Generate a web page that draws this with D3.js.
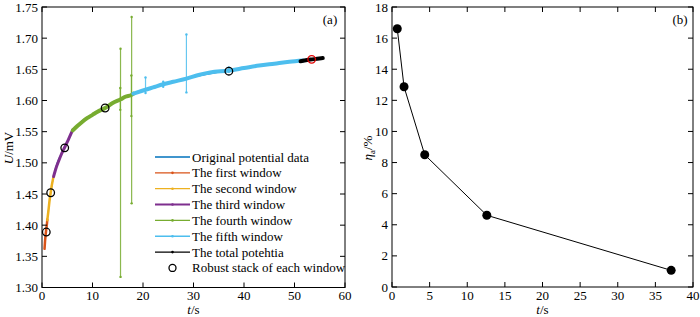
<!DOCTYPE html>
<html><head><meta charset="utf-8">
<script src="https://cdn.jsdelivr.net/npm/d3@7"></script>
<style>
body{margin:0;background:#fff;}
</style></head>
<body><svg id="c" width="700" height="317" font-family="'Liberation Serif', 'Times New Roman', serif"></svg>
<script>
// ---------- Panel (a) data ----------
const originalData = [[0.5,1.362],[1.05,1.409],[2.3,1.478],[4.5,1.525],[6.1,1.552],[12.5,1.588],[18.1,1.611],[28.6,1.635],[37,1.648],[51.7,1.664],[55.6,1.668]];
const firstWindow  = [[0.5,1.362],[0.6,1.374],[0.7,1.383],[0.85,1.394],[1.0,1.404],[1.05,1.409]];
const secondWindow = [[1.05,1.408],[1.3,1.425],[1.5,1.440],[1.72,1.452],[1.9,1.462],[2.1,1.471],[2.3,1.478]];
const thirdWindow  = [[2.3,1.478],[2.8,1.492],[3.3,1.503],[3.8,1.513],[4.5,1.525],[5.2,1.537],[5.7,1.546],[6.1,1.553]];
const fourthWindow = [[6.1,1.552],[7,1.559],[8,1.566],[9,1.572],[10,1.577],[11,1.582],[12.5,1.588],[14,1.596],[15.6,1.602],[16.5,1.606],[17.75,1.609],[18.1,1.611]];
const fourthSpikes = [[15.55,1.317,1.683],[17.75,1.435,1.734],[15.5,1.585,1.620],[17.7,1.575,1.640]];
const fifthWindow  = [[18.1,1.611],[20,1.616],[22,1.621],[24,1.626],[26,1.630],[28.6,1.635],[31,1.641],[33.3,1.645],[37,1.648],[40,1.652],[43,1.656],[46,1.659],[49,1.662],[51.7,1.664]];
const fifthSpikes  = [[20.5,1.612,1.637],[28.6,1.613,1.706],[37,1.646,1.653],[24,1.622,1.630]];
const totalWindow  = [[51.2,1.663],[52.5,1.665],[53.5,1.666],[54.5,1.667],[55.6,1.668]];
const robustT = [0.85,1.72,4.5,12.5,37.0,53.4];
const robustU = [1.389,1.452,1.524,1.588,1.647,1.666];
const robustColor = ["#000","#000","#000","#000","#000","#e00000"];
const xTicksA = [0,10,20,30,40,50,60];
const yTicksA = [1.30,1.35,1.40,1.45,1.50,1.55,1.60,1.65,1.70,1.75];
const legendLabels = ["Original potential data","The first window","The second window","The third window","The fourth window","The fifth window","The total potehtia","Robust stack of each window"];
const seriesColors = ["#0072BD","#D95319","#EDB120","#7E2F8E","#77AC30","#4DBEEE","#000000"];

// ---------- Panel (b) data ----------
const etaT = [0.7,1.6,4.35,12.6,37.1];
const etaV = [16.6,12.87,8.5,4.61,1.07];
const xTicksB = [0,5,10,15,20,25,30,35,40];
const yTicksB = [0,2,4,6,8,10,12,14,16,18];

const svg = d3.select("#c");
const FS = 13;

function frame(g, x, y, xt, yt, yfmt){
  const [x0,x1]=x.range(), [y0,y1]=y.range();
  g.append("rect").attr("x",x0).attr("y",y1).attr("width",x1-x0).attr("height",y0-y1)
    .attr("fill","none").attr("stroke","#000").attr("stroke-width",1);
  const tl=5;
  xt.forEach(v=>{
    const px=x(v);
    g.append("line").attr("x1",px).attr("x2",px).attr("y1",y0).attr("y2",y0-tl).attr("stroke","#000");
    g.append("line").attr("x1",px).attr("x2",px).attr("y1",y1).attr("y2",y1+tl).attr("stroke","#000");
    g.append("text").attr("x",px).attr("y",y0+12.5).attr("text-anchor","middle").attr("font-size",FS).text(v);
  });
  yt.forEach(v=>{
    const py=y(v);
    g.append("line").attr("x1",x0).attr("x2",x0+tl).attr("y1",py).attr("y2",py).attr("stroke","#000");
    g.append("line").attr("x1",x1).attr("x2",x1-tl).attr("y1",py).attr("y2",py).attr("stroke","#000");
    g.append("text").attr("x",x0-4).attr("y",py+4.5).attr("text-anchor","end").attr("font-size",FS).text(yfmt(v));
  });
}

// ---------- Panel (a) ----------
const xa = d3.scaleLinear().domain([0,60]).range([42,345]);
const ya = d3.scaleLinear().domain([1.30,1.75]).range([287.5,7]);
const ga = svg.append("g");
const lineA = d3.line().x(d=>xa(d[0])).y(d=>ya(d[1])).curve(d3.curveMonotoneX);

ga.append("path").datum(originalData).attr("d",lineA).attr("fill","none").attr("stroke",seriesColors[0]).attr("stroke-width",1);
function drawSeries(data, spikes, color, w){
  if(spikes){
    spikes.forEach(s=>{
      ga.append("line").attr("x1",xa(s[0])).attr("x2",xa(s[0])).attr("y1",ya(s[1])).attr("y2",ya(s[2]))
        .attr("stroke",color).attr("stroke-width",1.2).attr("opacity",0.85);
      [s[1],s[2]].forEach(v=>ga.append("circle").attr("cx",xa(s[0])).attr("cy",ya(v)).attr("r",1.2).attr("fill",color));
    });
  }
  ga.append("path").datum(data).attr("d",lineA).attr("fill","none").attr("stroke",color).attr("stroke-width",w).attr("stroke-linecap","round");
}
drawSeries(firstWindow,null,seriesColors[1],2.5);
drawSeries(secondWindow,null,seriesColors[2],2.5);
drawSeries(thirdWindow,null,seriesColors[3],3);
drawSeries(fourthWindow,fourthSpikes,seriesColors[4],4);
drawSeries(fifthWindow,fifthSpikes,seriesColors[5],4);
drawSeries(totalWindow,null,seriesColors[6],4);

robustT.forEach((t,i)=>{
  ga.append("circle").attr("cx",xa(t)).attr("cy",ya(robustU[i])).attr("r",3.8)
    .attr("fill","none").attr("stroke",robustColor[i]).attr("stroke-width",1.3);
});
frame(ga, xa, ya, xTicksA, yTicksA, d3.format(".2f"));
ga.append("text").attr("x",330).attr("y",24).attr("text-anchor","middle").attr("font-size",FS).text("(a)");

// legend
const lx0=155, lx1=190, ly0=157, ldy=15.85;
legendLabels.forEach((lab,i)=>{
  const yy=ly0+i*ldy;
  if(i<7){
    ga.append("line").attr("x1",lx0).attr("x2",lx1).attr("y1",yy).attr("y2",yy).attr("stroke",seriesColors[i]).attr("stroke-width",i===3?2:1.3);
    if(i>0) ga.append("circle").attr("cx",(lx0+lx1)/2).attr("cy",yy).attr("r",1.3).attr("fill",seriesColors[i]);
  } else {
    ga.append("circle").attr("cx",(lx0+lx1)/2).attr("cy",yy).attr("r",3.5).attr("fill","none").attr("stroke","#000").attr("stroke-width",1.3);
  }
  ga.append("text").attr("x",192).attr("y",yy+4.5).attr("font-size",FS).text(lab);
});

// axis labels (a)
const yla = ga.append("text").attr("transform","translate(13,148) rotate(-90)").attr("text-anchor","middle").attr("font-size",FS);
yla.append("tspan").attr("font-style","italic").text("U");
yla.append("tspan").text("/mV");
const xla = ga.append("text").attr("x",193.5).attr("y",314).attr("text-anchor","middle").attr("font-size",FS);
xla.append("tspan").attr("font-style","italic").text("t");
xla.append("tspan").text("/s");

// ---------- Panel (b) ----------
const xb = d3.scaleLinear().domain([0,40]).range([392,693]);
const yb = d3.scaleLinear().domain([0,18]).range([287,7]);
const gb = svg.append("g");
const etaData = etaT.map((t,i)=>[t,etaV[i]]);
gb.append("path").datum(etaData).attr("d",d3.line().x(d=>xb(d[0])).y(d=>yb(d[1])))
  .attr("fill","none").attr("stroke","#000").attr("stroke-width",1);
gb.selectAll("circle.m").data(etaData).join("circle").attr("class","m")
  .attr("cx",d=>xb(d[0])).attr("cy",d=>yb(d[1])).attr("r",4.5).attr("fill","#000");
frame(gb, xb, yb, xTicksB, yTicksB, d=>d);
gb.append("text").attr("x",680).attr("y",24).attr("text-anchor","middle").attr("font-size",FS).text("(b)");
const ylb = gb.append("text").attr("transform","translate(372,148) rotate(-90)").attr("text-anchor","middle").attr("font-size",FS);
ylb.append("tspan").attr("font-style","italic").text("η");
ylb.append("tspan").attr("font-size",9).attr("dy",3).text("a");
ylb.append("tspan").attr("dy",-3).text("/%");
const xlb = gb.append("text").attr("x",542.5).attr("y",314).attr("text-anchor","middle").attr("font-size",FS);
xlb.append("tspan").attr("font-style","italic").text("t");
xlb.append("tspan").text("/s");
</script></body></html>
